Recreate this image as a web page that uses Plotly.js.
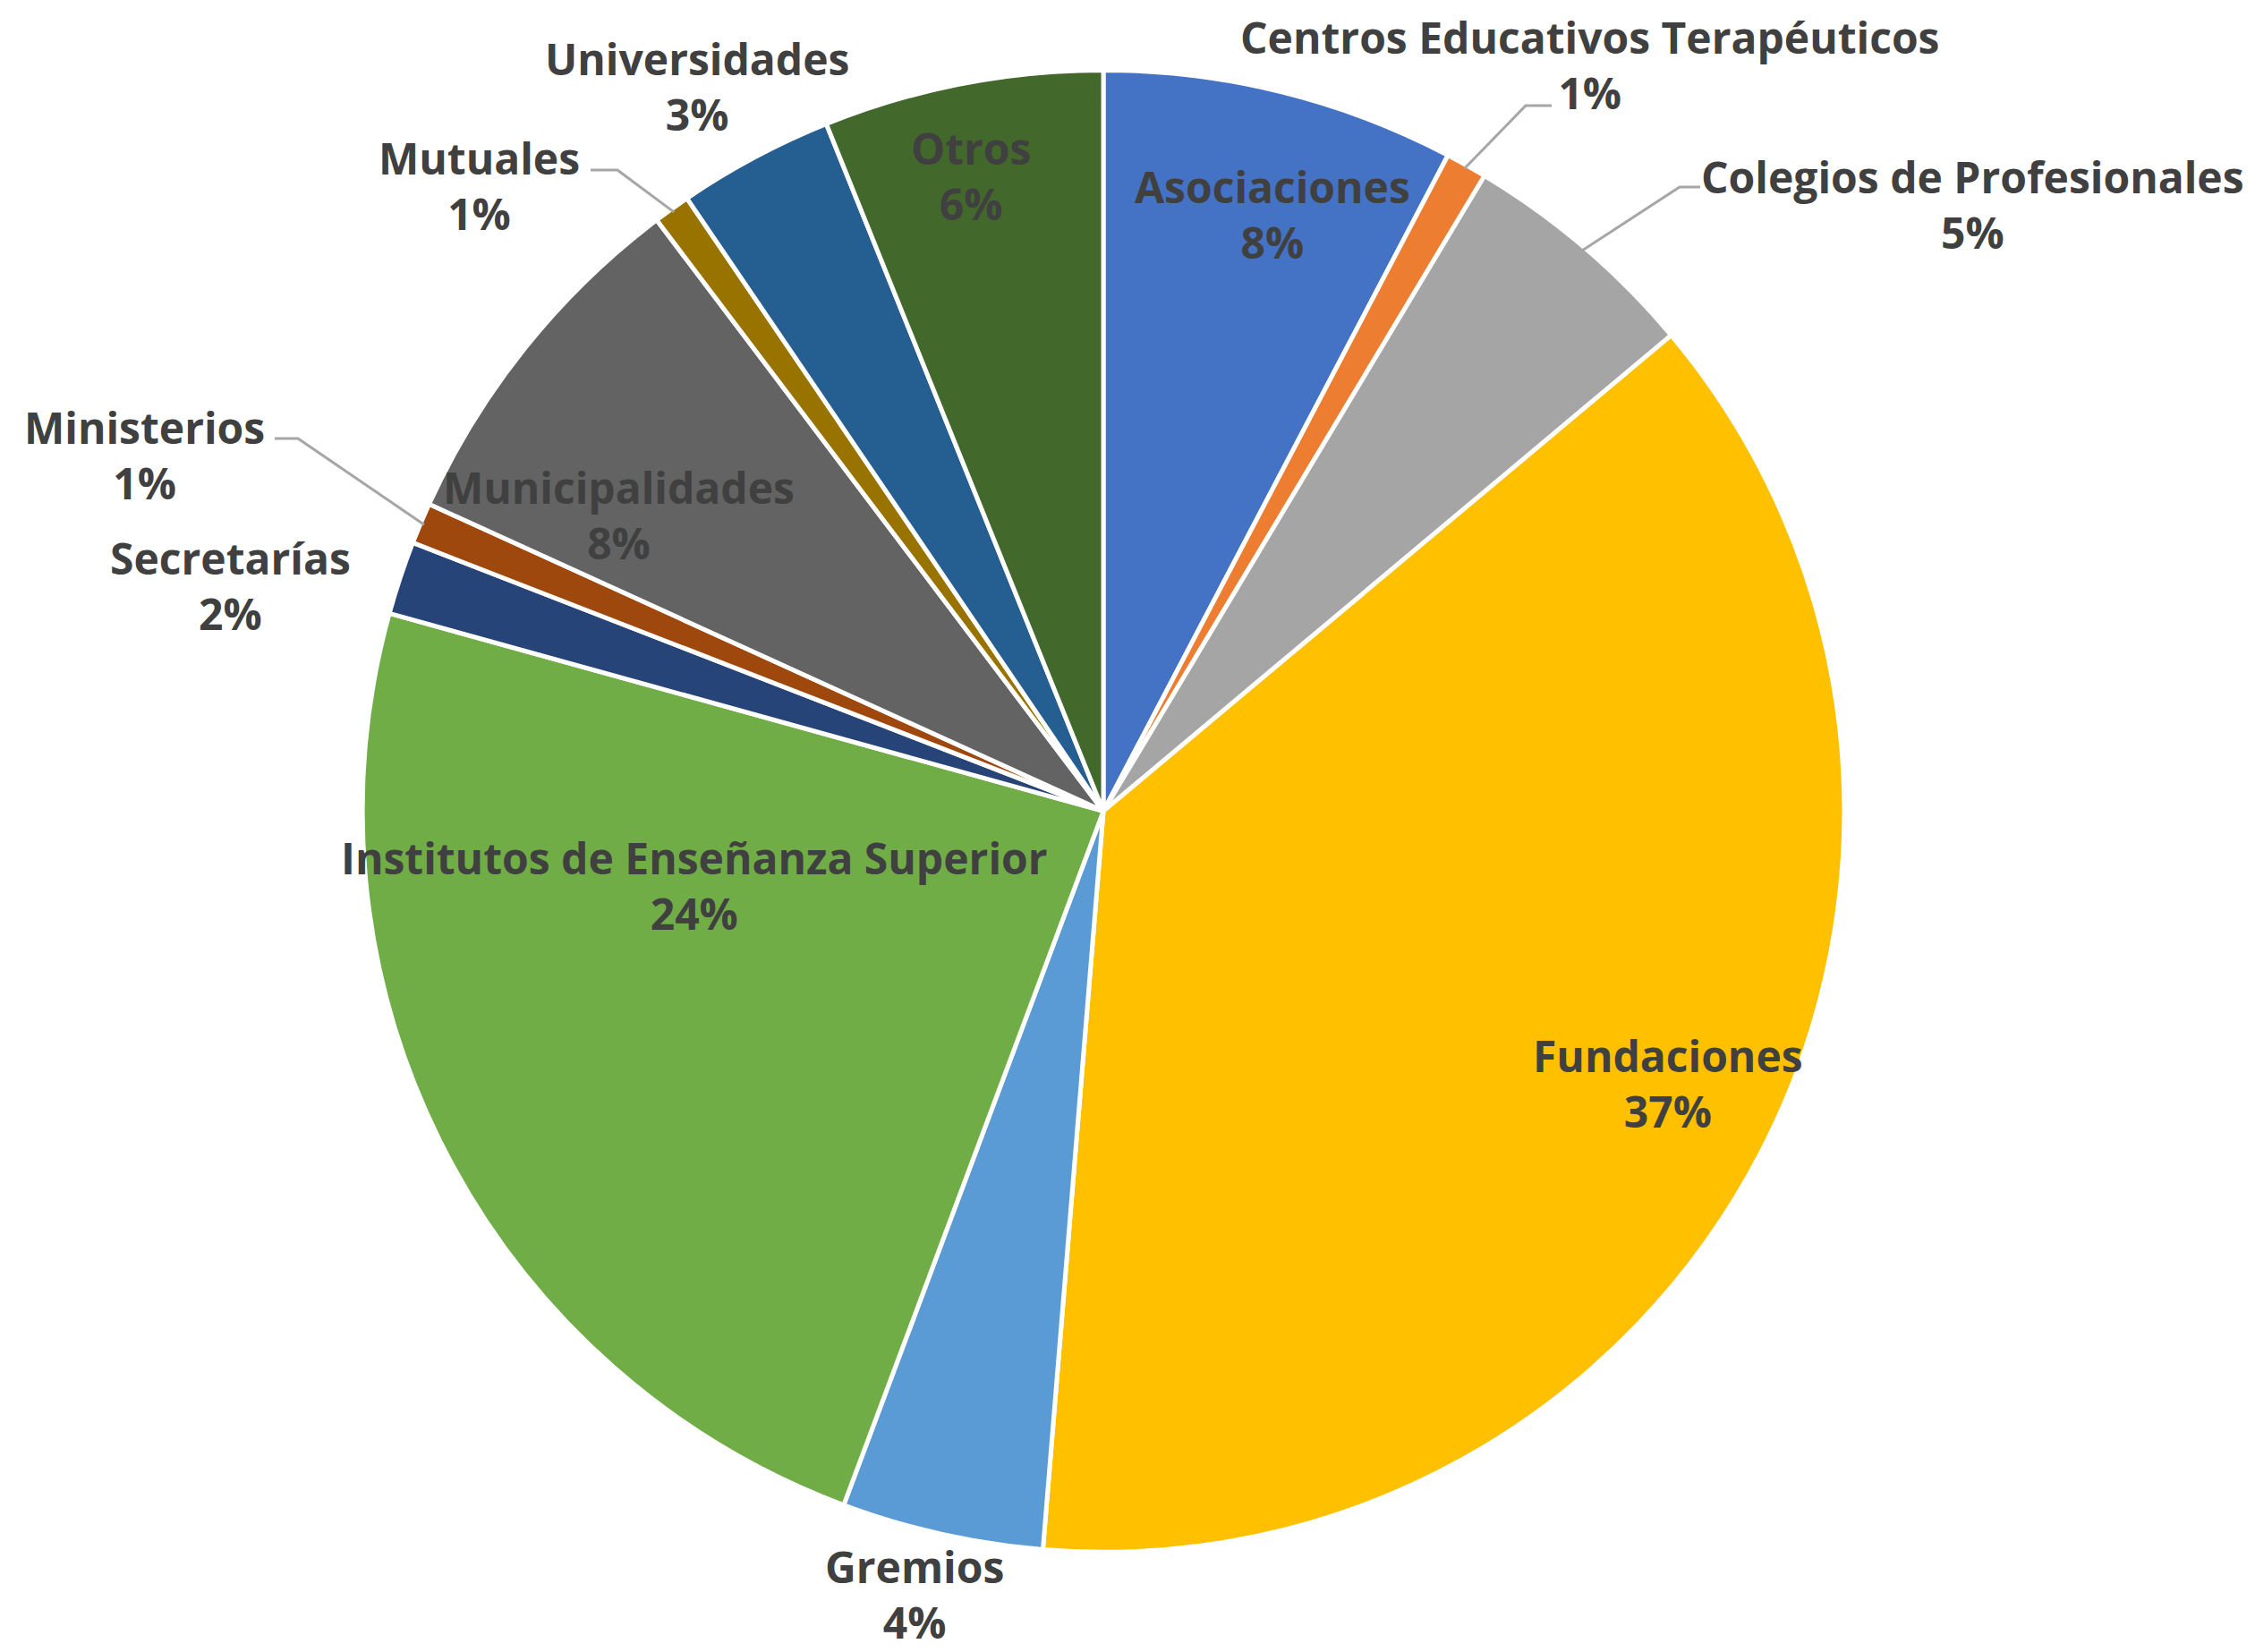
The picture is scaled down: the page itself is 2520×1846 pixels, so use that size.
<!DOCTYPE html>
<html>
<head>
<meta charset="utf-8">
<script src="https://cdn.plot.ly/plotly-3.0.1.min.js"></script>
<style>html,body{margin:0;padding:0;background:#fff;}#chart{width:2520px;height:1846px;}</style>
</head>
<body>
<div id="chart"></div>
<script>
// ---- data ----
const categories = ["Asociaciones","Centros Educativos Terapéuticos","Colegios de Profesionales","Fundaciones","Gremios","Institutos de Enseñanza Superior","Secretarías","Ministerios","Municipalidades","Mutuales","Universidades","Otros"];
const shares = [7.7, 0.9, 5.3, 37.4, 4.4, 23.6, 1.6, 0.9, 7.9, 0.8, 3.4, 6.1];
const colors = ["#4472C4","#ED7D31","#A5A5A5","#FFC000","#5B9BD5","#70AD47","#264478","#9E480E","#636363","#997300","#255E91","#43682B"];

// ---- layout (label placement, pixels in the 2520x1846 page) ----
const W = 2520, H = 1846;
const labelCenters = [[1422,239],[1776,72],[2204,228],[1864,1210],[1022,1781],[776,989],[257,655],[161,508],[691,575],[535,207],[779,96],[1085,196]];
// leader lines: null = no line, otherwise [[labelEndX,labelEndY],[elbowX,elbowY]] then to slice edge
const leaders = [null, [[1734,118],[1705,118]], [[1900,209],[1877,209]], null, null, null, null, [[307,490],[333,490]], null, [[660,190],[690,190]], null, null];

const dom = {x: [0.1607, 0.8179], y: [0.0605, 0.9575]};
const cx = (dom.x[0] + dom.x[1]) / 2 * W;
const cy = (1 - (dom.y[0] + dom.y[1]) / 2) * H;
const R = Math.min((dom.x[1] - dom.x[0]) * W, (dom.y[1] - dom.y[0]) * H) / 2;

const total = shares.reduce((a, b) => a + b, 0);
const px2x = v => v / W, px2y = v => 1 - v / H;

const annotations = [];
const shapes = [];
let cum = 0;
categories.forEach((name, i) => {
  const mid = (cum + shares[i] / 2) / total * 2 * Math.PI;
  cum += shares[i];
  const pct = Math.round(shares[i] / total * 100) + "%";
  annotations.push({
    xref: "paper", yref: "paper",
    x: px2x(labelCenters[i][0]), y: px2y(labelCenters[i][1]),
    xanchor: "center", yanchor: "middle",
    text: name + "<br>" + pct,
    showarrow: false,
    font: {family: "Open Sans, sans-serif", size: 48, color: "#404040", weight: "bold"}
  });
  if (leaders[i]) {
    const ex = cx + R * 0.995 * Math.sin(mid);
    const ey = cy - R * 0.995 * Math.cos(mid);
    const p = [leaders[i][0], leaders[i][1], [ex, ey]];
    shapes.push({
      type: "path", xref: "paper", yref: "paper",
      path: "M " + p.map(q => px2x(q[0]) + "," + px2y(q[1])).join(" L "),
      line: {color: "#A6A6A6", width: 3}
    });
  }
});

const trace = {
  type: "pie",
  labels: categories,
  values: shares,
  sort: false,
  direction: "clockwise",
  rotation: 0,
  marker: {colors: colors, line: {color: "#ffffff", width: 5}},
  textinfo: "none",
  hoverinfo: "label+percent",
  domain: dom,
  automargin: false
};

Plotly.newPlot("chart", [trace], {
  width: W, height: H,
  margin: {l: 0, r: 0, t: 0, b: 0},
  showlegend: false,
  paper_bgcolor: "#ffffff",
  font: {family: "Open Sans, sans-serif", color: "#404040"},
  annotations: annotations,
  shapes: shapes
}, {displayModeBar: false});
</script>
</body>
</html>
